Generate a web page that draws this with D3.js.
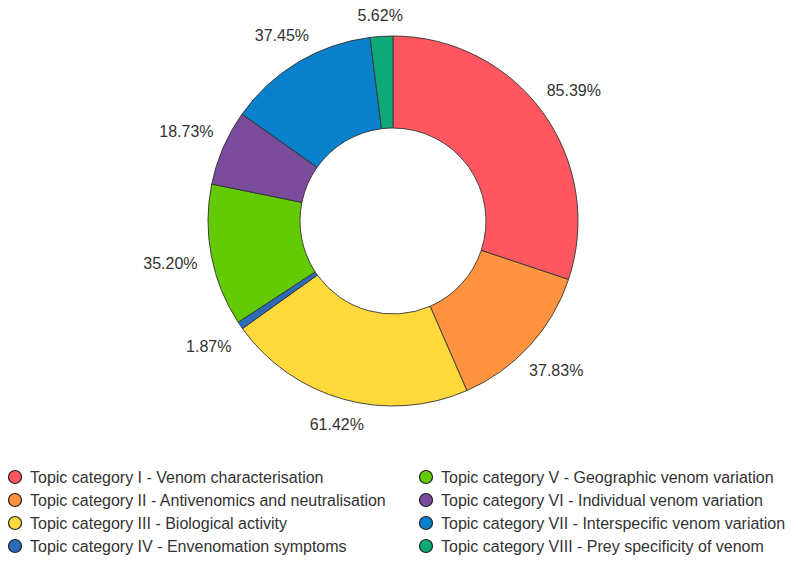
<!DOCTYPE html>
<html><head><meta charset="utf-8">
<script src="https://cdn.jsdelivr.net/npm/d3@7"></script>
<style>body{margin:0;background:#fff}svg{display:block}</style>
</head><body>
<script>
const categories = [
  "Topic category I - Venom characterisation",
  "Topic category II - Antivenomics and neutralisation",
  "Topic category III - Biological activity",
  "Topic category IV - Envenomation symptoms",
  "Topic category V - Geographic venom variation",
  "Topic category VI - Individual venom variation",
  "Topic category VII - Interspecific venom variation",
  "Topic category VIII - Prey specificity of venom"
];
const values = [85.39, 37.83, 61.42, 1.87, 35.20, 18.73, 37.45, 5.62];
const labels = ["85.39%", "37.83%", "61.42%", "1.87%", "35.20%", "18.73%", "37.45%", "5.62%"];
const colors = ["#FF5660", "#FF9340", "#FFD93B", "#2B6BB8", "#63CB06", "#7A4A9B", "#0880CC", "#0FA878"];

const W = 798, H = 561;
const cx = 393, cy = 221, rOuter = 185, rInner = 93;
const svg = d3.select("body").append("svg").attr("width", W).attr("height", H);
const font = "'Liberation Sans', Arial, sans-serif";

const pie = d3.pie().sort(null).value(d => d)(values);
const arc = d3.arc().innerRadius(rInner).outerRadius(rOuter);
const g = svg.append("g").attr("transform", `translate(${cx},${cy})`);
g.selectAll("path").data(pie).join("path")
  .attr("d", arc)
  .attr("fill", (d, i) => colors[i])
  .attr("stroke", "#333")
  .attr("stroke-width", 0.9);

g.selectAll("text").data(pie).join("text")
  .each(function(d, i) {
    const a = (d.startAngle + d.endAngle) / 2;
    const R = 205 + 22 * Math.abs(Math.sin(a));
    d3.select(this)
      .attr("x", R * Math.sin(a))
      .attr("y", -R * Math.cos(a))
      .text(labels[i]);
  })
  .attr("text-anchor", "middle")
  .attr("dominant-baseline", "central")
  .attr("font-family", font)
  .attr("font-size", 16)
  .attr("fill", "#333");

// legend
const leg = svg.append("g");
categories.forEach((c, i) => {
  const col = Math.floor(i / 4), row = i % 4;
  const x = col === 0 ? 15 : 426;
  const y = 477 + row * 23;
  leg.append("circle").attr("cx", x).attr("cy", y).attr("r", 6.5)
    .attr("fill", colors[i]).attr("stroke", "#222").attr("stroke-width", 1.2);
  leg.append("text").attr("x", x + 15).attr("y", y)
    .attr("dominant-baseline", "central")
    .attr("font-family", font).attr("font-size", 16).attr("fill", "#333")
    .text(c);
});
</script>
</body></html>
